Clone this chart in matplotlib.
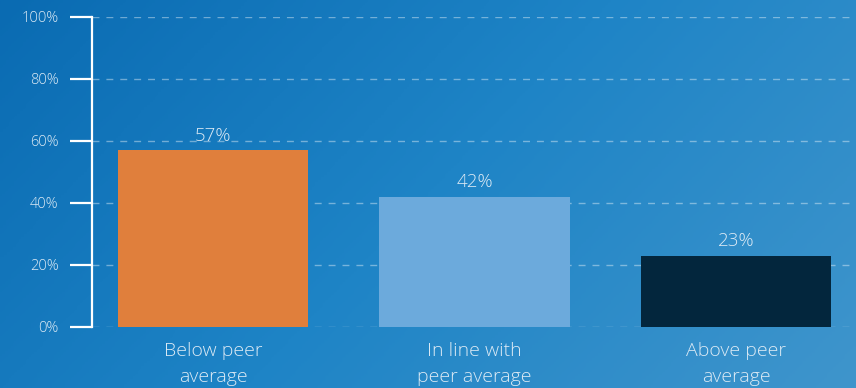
import numpy as np
import matplotlib
matplotlib.use('Agg')
import matplotlib.pyplot as plt
from matplotlib.colors import LinearSegmentedColormap

# Data
categories = ['Below peer\naverage', 'In line with\npeer average', 'Above peer\naverage']
values = [57, 42, 23]
bar_colors = ['#e07f3c', '#6caadc', '#03263d']
y_ticks = [0, 20, 40, 60, 80, 100]
y_tick_labels = ['0%', '20%', '40%', '60%', '80%', '100%']

text_color = '#dceaf5'
plt.rcParams['font.family'] = ['Open Sans', 'DejaVu Sans']

fig = plt.figure(figsize=(8.56, 3.88), dpi=100)

# Background gradient (dark blue top-left to lighter blue bottom-right)
bg = fig.add_axes([0, 0, 1, 1], zorder=-10)
gx, gy = np.meshgrid(np.linspace(0, 1, 300), np.linspace(0, 1, 150))
grad = 0.7 * gx + 0.3 * gy
cmap = LinearSegmentedColormap.from_list('bg', ['#0a6bb2', '#1e84c6', '#3f95cc'])
bg.imshow(grad, cmap=cmap, aspect='auto', extent=[0, 1, 0, 1], origin='upper')
bg.axis('off')

ax = fig.add_axes([92 / 856, 61 / 388, 764 / 856, 310 / 388])
ax.patch.set_alpha(0)

x = np.arange(len(categories))
bars = ax.bar(x, values, width=0.727, color=bar_colors, zorder=2)

for xi, v in zip(x, values):
    ax.text(xi, v + 1.8, f'{v}%', ha='center', va='bottom', fontsize=13.5,
            color=text_color, fontweight='light')

ax.set_xlim(-0.4627, 2.459)
ax.set_ylim(0, 100)
ax.set_yticks(y_ticks)
ax.set_yticklabels(y_tick_labels, fontsize=10.5, color=text_color, fontweight='light')
ax.set_xticks(x)
ax.set_xticklabels(categories, fontsize=14, color=text_color, linespacing=1.55,
                   fontweight='light')

ax.tick_params(axis='y', length=16, width=1.6, color='white', pad=8)
ax.tick_params(axis='x', length=0, pad=11)

ax.yaxis.grid(True, color='white', alpha=0.4, linestyle=(0, (5, 5)), linewidth=1)
ax.set_axisbelow(True)

for side in ['top', 'right', 'bottom']:
    ax.spines[side].set_visible(False)
ax.spines['left'].set_color('white')
ax.spines['left'].set_linewidth(1.6)

fig.savefig('out.png', dpi=100)
